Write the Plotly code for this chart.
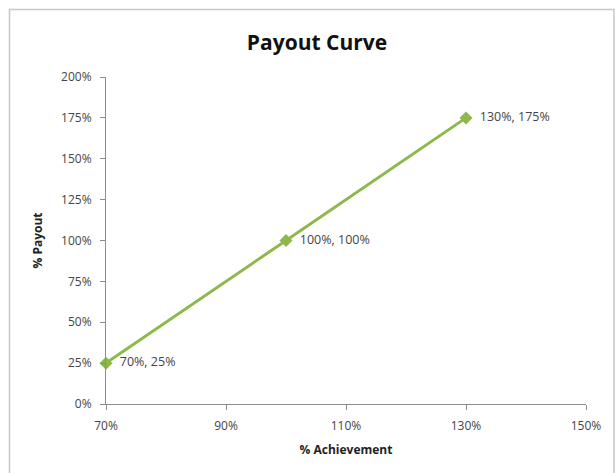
import plotly.graph_objects as go

achievement = [70, 100, 130]
payout = [25, 100, 175]
point_labels = ["70%, 25%", "100%, 100%", "130%, 175%"]
x_ticks = [70, 90, 110, 130, 150]
y_ticks = [0, 25, 50, 75, 100, 125, 150, 175, 200]

W, H = 615, 473
L, R, T, B = 106, 29, 77, 69
pw, ph = W - L - R, H - T - B

def px_x(p):
    return (p - L) / pw

def px_y(p):
    return (H - B - p) / ph

FONT = "Open Sans, sans-serif"

fig = go.Figure()
fig.add_trace(go.Scatter(
    x=achievement, y=payout,
    mode="lines+markers+text",
    line=dict(color="#8DB84A", width=3),
    marker=dict(symbol="diamond", size=10, color="#8DB84A"),
    text=["  " + t for t in point_labels],
    textposition="middle right",
    textfont=dict(family=FONT, size=12.5, color="#454545"),
    cliponaxis=False,
    showlegend=False,
))

axis_common = dict(
    showgrid=False, zeroline=False, showline=True, linecolor="#8c8c8c", linewidth=1,
    ticks="outside", ticklen=5, tickcolor="#8c8c8c",
    tickfont=dict(family=FONT, size=12, color="#454545"),
)

fig.update_layout(
    width=W, height=H,
    margin=dict(l=L, r=R, t=T, b=B),
    paper_bgcolor="white", plot_bgcolor="white",
    title=dict(text="<b>Payout Curve</b>", x=317 / W, xanchor="center",
               y=1 - 43 / H, yanchor="middle",
               font=dict(family=FONT, size=21, color="#111111")),
    xaxis=dict(range=[70, 150], tickvals=x_ticks,
               ticktext=[f"{v}%" for v in x_ticks], ticklabelstandoff=6,
               title=dict(text="<b>% Achievement</b>", standoff=12,
                          font=dict(family=FONT, size=12, color="#222222")),
               **axis_common),
    yaxis=dict(range=[0, 200], tickvals=y_ticks,
               ticktext=[f"{v}%" for v in y_ticks], ticklabelstandoff=6,
               title=dict(text="<b>% Payout</b>", standoff=15,
                          font=dict(family=FONT, size=12, color="#222222")),
               **axis_common),
    shapes=[dict(type="rect", xref="paper", yref="paper",
                 x0=px_x(9.5), x1=px_x(614), y0=px_y(480), y1=px_y(9.5),
                 line=dict(color="#c8c8c8", width=1.5), fillcolor="rgba(0,0,0,0)", layer="below")],
)

fig.write_html("out.html", config={"displayModeBar": False},
               post_script="document.body.style.margin='0';document.body.style.overflow='hidden';")
